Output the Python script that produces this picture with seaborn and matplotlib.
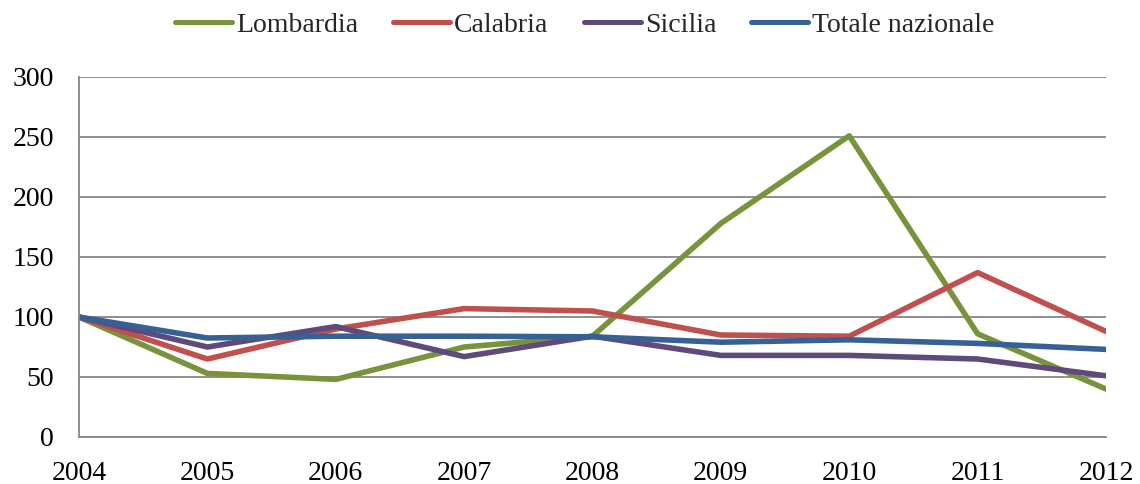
import matplotlib
matplotlib.use("Agg")
from matplotlib import pyplot as plt
import pandas as pd
import seaborn as sns

years = [2004, 2005, 2006, 2007, 2008, 2009, 2010, 2011, 2012]
lombardia = [100, 53, 48, 75, 84, 178, 251, 86, 40]
calabria = [100, 65, 90, 107, 105, 85, 84, 137, 88]
sicilia = [100, 75, 92, 67, 84, 68, 68, 65, 51]
totale = [100, 82.5, 84, 84, 83.5, 79, 81, 78, 73]

series_names = ["Lombardia", "Calabria", "Sicilia", "Totale nazionale"]
series_values = [lombardia, calabria, sicilia, totale]
colors = ["#77933C", "#C0504D", "#604A7B", "#376094"]

frame = pd.concat(
    [pd.DataFrame({"anno": years, "valore": vals, "serie": name})
     for name, vals in zip(series_names, series_values)],
    ignore_index=True,
)

sns.set_theme(style="white")
plt.rcParams["font.family"] = ["Liberation Serif", "DejaVu Serif"]

fig = plt.figure(figsize=(11.4, 4.84), dpi=100)
ax = fig.add_axes([79 / 1140, 1 - 437 / 484, (1106 - 79) / 1140, (437 - 77) / 484])

sns.lineplot(
    data=frame, x="anno", y="valore", hue="serie", hue_order=series_names,
    palette=colors, linewidth=4.0, ax=ax, legend=False,
)

ax.set_xlim(2004, 2012)
ax.set_ylim(0, 300)
ax.set_xticks(years)
ax.set_yticks(range(0, 301, 50))
ax.set_xlabel("")
ax.set_ylabel("")
ax.grid(axis="y", color="#868686", linewidth=1.3)
ax.set_axisbelow(True)
for side in ["top", "right"]:
    ax.spines[side].set_visible(False)
for side in ["left", "bottom"]:
    ax.spines[side].set_color("#868686")
    ax.spines[side].set_linewidth(1.3)
ax.tick_params(axis="both", labelsize=20, colors="black", length=6,
               width=1.3, color="#868686")
ax.tick_params(axis="x", pad=11)
ax.tick_params(axis="y", pad=12)

handles = [plt.Line2D([], [], color=c, linewidth=3.6) for c in colors]
fig.legend(handles, series_names, loc="center left",
           bbox_to_anchor=(175 / 1140, 1 - 25 / 484), ncol=4, frameon=False,
           fontsize=20, handlelength=2.05, handletextpad=0.15,
           columnspacing=1.26, borderpad=0, borderaxespad=0)

fig.savefig("out.png", dpi=100)
